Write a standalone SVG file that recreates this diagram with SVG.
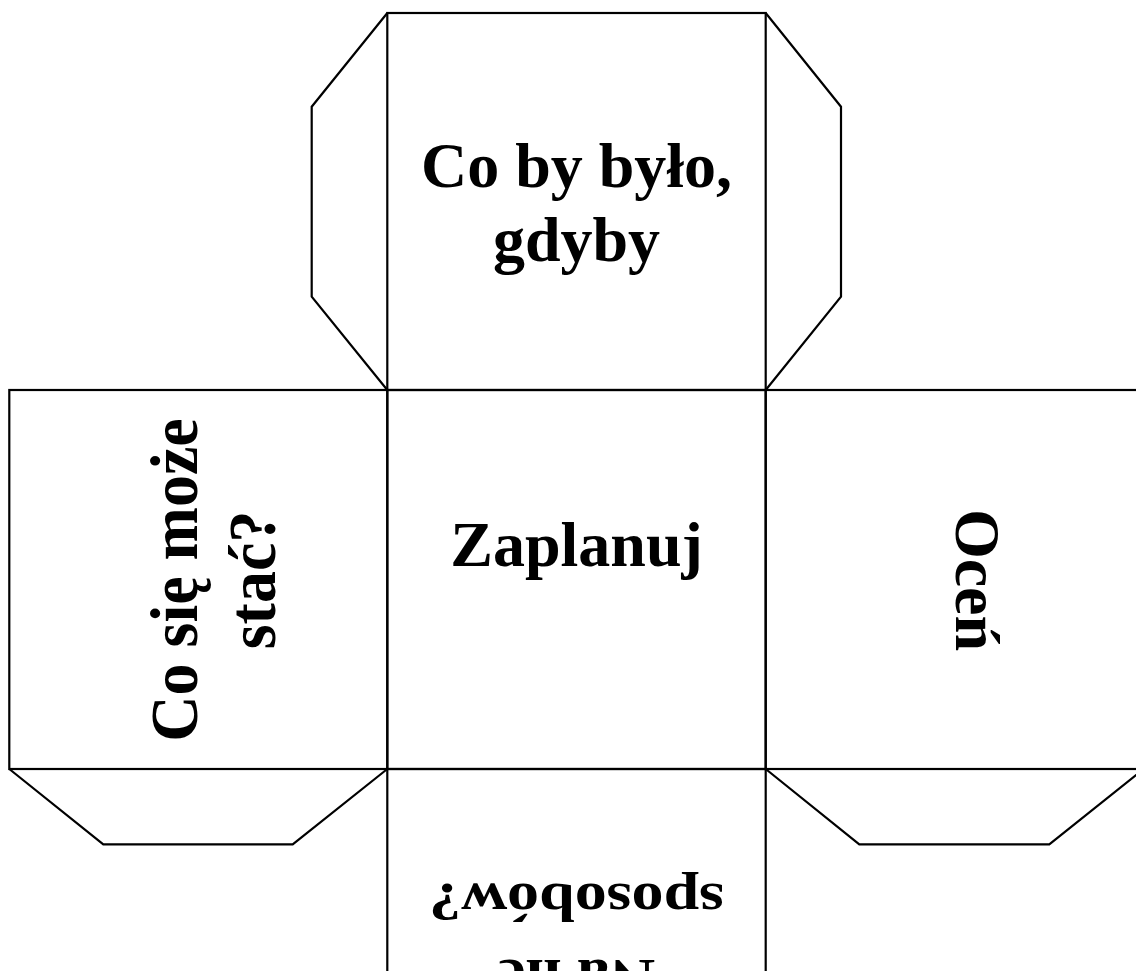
<svg xmlns="http://www.w3.org/2000/svg" width="1136" height="971" viewBox="0 0 1136 971">
<style>
.ln{fill:none;stroke:#000;stroke-width:2.2;stroke-linejoin:miter}
.t{font-family:"Liberation Serif","Times New Roman",serif;font-weight:bold;font-size:64px;fill:#000;text-anchor:middle}
</style>
<rect width="1136" height="971" fill="#fff"/>
<g id="connectors">
<polyline class="ln" points="387.3,13 311.7,106.7 311.7,296.7 387.3,390"/>
<polyline class="ln" points="765.7,13 841,106.7 841,296.7 765.7,390"/>
<polyline class="ln" points="9.3,769 103.3,844.3 292.7,844.3 387.3,769"/>
<polyline class="ln" points="765.7,769 859.3,844.3 1049.3,844.3 1143.7,769"/>
</g>
<g id="face-top">
<rect class="ln" x="387.3" y="13" width="378.4" height="377"/>
<text class="t" x="576.5" y="187">Co by było,</text>
<text class="t" x="576.5" y="261">gdyby</text>
</g>
<g id="face-left">
<rect class="ln" x="9.3" y="390" width="378" height="379"/>
<g transform="translate(197,580) rotate(-90) scale(1,1.06)">
<text class="t" x="0" y="0">Co się może</text>
<text class="t" x="0" y="73.6">stać?</text>
</g>
</g>
<g id="face-center">
<rect class="ln" x="387.3" y="390" width="378.4" height="379"/>
<text class="t" x="576.5" y="566">Zaplanuj</text>
</g>
<g id="face-right">
<rect class="ln" x="765.7" y="390" width="378" height="379"/>
<g transform="translate(956,580) rotate(90)">
<text class="t" x="0" y="0">Oceń</text>
</g>
</g>
<g id="face-bottom">
<rect class="ln" x="387.3" y="769" width="378.4" height="378"/>
<g transform="translate(576.5,884) rotate(180) scale(1,0.85)">
<text class="t" x="0" y="-90">Na ile</text>
<text class="t" x="0" y="0">sposobów?</text>
</g>
</g>
</svg>
